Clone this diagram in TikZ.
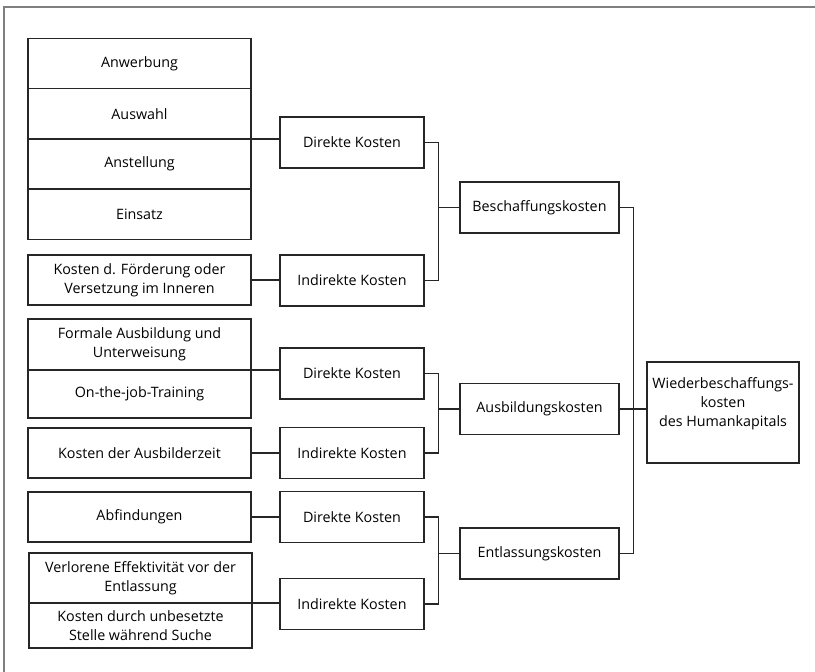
\documentclass[tikz,border=0pt]{standalone}
\usepackage{fontspec}
\setmainfont{Open Sans}
\usetikzlibrary{positioning}

\tikzset{
	cell/.style={draw=black!85, line width=1.3pt, minimum width=223pt, minimum height=50.25pt,
		inner sep=0pt, outer sep=0pt, align=center, font=\fontsize{14.3}{19}\selectfont},
	kind/.style={cell, minimum width=144pt, minimum height=51pt},
	group/.style={cell, minimum width=159pt, minimum height=51pt},
	link/.style={draw=black!85, line width=1.3pt},
	frame/.style={draw=black!50, line width=2pt},
}

\begin{document}
\begin{tikzpicture}[x=1pt, y=-1pt, node distance=0pt]
			\useasboundingbox (0,0) rectangle (815,672);
			\draw[frame] (3.5,672) -- (3.5,6.5) -- (815,6.5);

			% Beschaffung
			\node[cell] (anw) at (139.5,63.5) {Anwerbung};
			\node[cell, below=of anw] (ausw) {Auswahl};
			\node[cell, below=of ausw] (anst) {Anstellung};
			\node[cell, below=of anst] (eins) {Einsatz};
			\node[cell] (foerd) at (139.5,280) {Kosten d. Förderung oder\\Versetzung im Inneren};

			% Ausbildung
			\node[cell, minimum height=51pt] (form) at (139.5,344.5) {Formale Ausbildung und\\Unterweisung};
			\node[cell, minimum height=48pt, below=of form] (otj) {On-the-job-Training};
			\node[cell] (ausbz) at (139.5,453) {Kosten der Ausbilderzeit};

			% Entlassung
			\node[cell] (abf) at (139.5,517) {Abfindungen};
			\node[cell] (verl) at (140.5,578) {Verlorene Effektivität vor der\\Entlassung};
			\node[cell, minimum height=45pt, below=of verl] (kdus) {Kosten durch unbesetzte\\Stelle während Suche};

			\node[kind] (dk1) at (352,142.5) {Direkte Kosten};
			\node[kind] (ik1) at (352,280.5) {Indirekte Kosten};
			\node[kind] (dk2) at (352,373.5) {Direkte Kosten};
			\node[kind] (ik2) at (352,453) {Indirekte Kosten};
			\node[kind] (dk3) at (352,517) {Direkte Kosten};
			\node[kind] (ik3) at (352,604) {Indirekte Kosten};

			\node[group] (besch) at (539.5,207.5) {Beschaffungskosten};
			\node[group] (ausb) at (539.5,409) {Ausbildungskosten};
			\node[group] (entl) at (539.5,553.5) {Entlassungskosten};

			\node[cell, align=none, minimum width=152pt, minimum height=101pt] (wied) at (723,412.5)
				{\raisebox{0pt}[\height][\dimexpr\depth+17pt\relax]{\begin{tabular}{@{}c@{}}Wiederbeschaffungs-\\kosten\\des Humankapitals\end{tabular}}};

			\coordinate[left=21.5pt of besch.west] (jb);
			\coordinate[left=21.5pt of ausb.west] (ja);
			\coordinate[left=21.5pt of entl.west] (je);
			\coordinate[right=14.5pt of ausb.east] (jw);

			\draw[link] (ausw.south east) -- (ausw.south east -| dk1.west);
			\draw[link] (foerd.east) -- (foerd.east -| ik1.west);
			\draw[link] (form.south east) -- (form.south east -| dk2.west);
			\draw[link] (ausbz.east) -- (ausbz.east -| ik2.west);
			\draw[link] (abf.east) -- (abf.east -| dk3.west);
			\draw[link] (verl.south east) -- (verl.south east -| ik3.west);

			\draw[link] (dk1.east) -| (jb) |- (ik1.east);
			\draw[link] (jb) -- (besch.west);
			\draw[link] (dk2.east) -| (ja) |- (ik2.east);
			\draw[link] (ja) -- (ausb.west);
			\draw[link] (dk3.east) -| (je) |- (ik3.east);
			\draw[link] (je) -- (entl.west);

			\draw[link] (besch.east) -| (jw) |- (entl.east);
			\draw[link] (ausb.east) -- (ausb.east -| wied.west);
		\end{tikzpicture}
\end{document}
